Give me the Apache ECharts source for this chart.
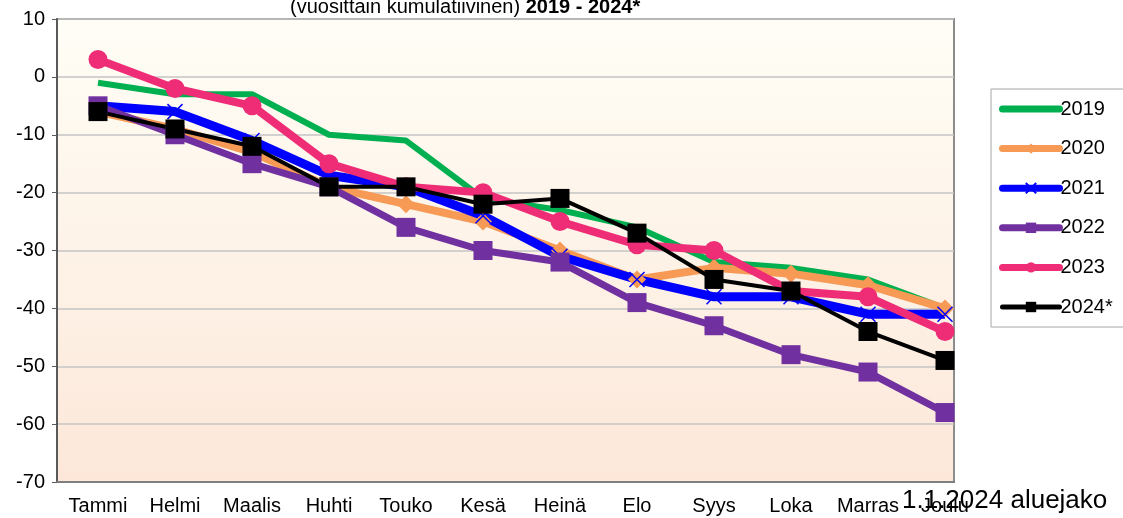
<!DOCTYPE html>
<html>
	<head>
		<meta charset="UTF-8">
		<title></title>
		<script src="https://cdn.jsdelivr.net/npm/echarts@6/dist/echarts.min.js" type="text/javascript" charset="utf-8"></script>
	</head>
	<body style="margin:0;background:#fff;">
		<div id="chart" style="width:1123px;height:518px;"></div>
		<script type="text/javascript">
			var months = ['Tammi', 'Helmi', 'Maalis', 'Huhti', 'Touko', 'Kesä', 'Heinä', 'Elo', 'Syys', 'Loka', 'Marras', 'Joulu'];
			var years = ['2019', '2020', '2021', '2022', '2023', '2024*'];
			var v2019 = [-1, -3, -3, -10, -11, -21, -23, -26, -32, -33, -35, -40];
			var v2020 = [-6, -9, -13, -19, -22, -25, -30, -35, -33, -34, -36, -40];
			var v2021 = [-5, -6, -11, -17, -19, -24, -31, -35, -38, -38, -41, -41];
			var v2022 = [-5, -10, -15, -19, -26, -30, -32, -39, -43, -48, -51, -58];
			var v2023 = [3, -2, -5, -15, -19, -20, -25, -29, -30, -37, -38, -44];
			var v2024 = [-6, -9, -12, -19, -19, -22, -21, -27, -35, -37, -44, -49];
			var yTicks = [10, 0, -10, -20, -30, -40, -50, -60, -70];

			var chart = echarts.init(document.getElementById('chart'));
			var font = 'Liberation Sans, Arial, sans-serif';
			var crossPath = 'path://M0,0L10,10M10,0L0,10';

			function line(name, data, color, width, symbol, size, extra) {
				var s = {
					name: name,
					type: 'line',
					xAxisIndex: 1,
					yAxisIndex: 1,
					data: data,
					symbol: symbol,
					symbolSize: size,
					showSymbol: symbol !== 'none',
					lineStyle: { color: color, width: width },
					itemStyle: { color: color },
					emphasis: { disabled: true },
					animation: false
				};
				if (extra) {
					for (var k in extra) s[k] = extra[k];
				}
				return s;
			}

			// legend: thick rounded lines, small markers, no marker for 2019
			var legendData = years.map(function (y, i) {
				var item = { name: y, lineStyle: { width: i === 5 ? 5 : 7, cap: 'round' } };
				if (i === 0) item.itemStyle = { opacity: 0 };
				return item;
			});

			var option = {
				backgroundColor: '#fff',
				textStyle: { fontFamily: font },
				title: {
					text: '{n|(vuosittain kumulatiivinen) }{b|2019 - 2024*}',
					left: 290,
					top: -3,
					padding: 0,
					textStyle: {
						fontWeight: 'normal',
						rich: {
							n: { fontSize: 20, color: '#000', fontWeight: 'normal', fontFamily: font },
							b: { fontSize: 20, color: '#000', fontWeight: 'bold', fontFamily: font }
						}
					}
				},
				legend: {
					orient: 'vertical',
					left: 991,
					top: 89,
					padding: [10, 40, 10, 8],
					itemWidth: 57,
					itemHeight: 13,
					itemGap: 19.6,
					backgroundColor: '#fff',
					borderColor: '#A6A6A6',
					borderWidth: 1,
					textStyle: { fontSize: 20, color: '#000', fontFamily: font, padding: [0, 0, 0, -4] },
					data: legendData
				},
				grid: [
					{
						left: 57, right: 169, top: 19, bottom: 36,
						show: true,
						borderColor: '#8C8C8C',
						borderWidth: 2,
						backgroundColor: new echarts.graphic.LinearGradient(0, 0, 0, 1, [
							{ offset: 0, color: '#FFFEF6' },
							{ offset: 1, color: '#FCE7D9' }
						])
					},
					{ left: 98, right: 178, top: 19, bottom: 36 }
				],
				xAxis: [
					{
						gridIndex: 0, type: 'value', min: 0, max: 1,
						axisLine: { show: true, onZero: false, lineStyle: { color: '#7F7F7F', width: 2 } },
						axisTick: { show: false }, axisLabel: { show: false }, splitLine: { show: false }
					},
					{
						gridIndex: 1, type: 'category', data: months, boundaryGap: false,
						axisLine: { show: false }, axisTick: { show: false }, splitLine: { show: false },
						axisLabel: { fontSize: 20, color: '#000', margin: 14, interval: 0, fontFamily: font }
					}
				],
				yAxis: [
					{
						gridIndex: 0, type: 'value',
						min: yTicks[yTicks.length - 1], max: yTicks[0], interval: 10,
						axisLine: { show: true, lineStyle: { color: '#595959', width: 2 } },
						axisTick: { show: true, length: 5, lineStyle: { color: '#595959', width: 1 } },
						axisLabel: { fontSize: 20, color: '#000', margin: 12, fontFamily: font },
						splitLine: { show: true, lineStyle: { color: '#C4C4C4', width: 1.5 } }
					},
					{
						gridIndex: 1, type: 'value',
						min: yTicks[yTicks.length - 1], max: yTicks[0], interval: 10,
						show: false
					}
				],
				series: [
					line('2019', v2019, '#00B050', 6, 'none', 0),
					line('2020', v2020, '#F79A55', 8, 'diamond', 18),
					line('2021', v2021, '#0000FF', 9, crossPath, 15, {
						itemStyle: { color: '#0000FF', borderColor: '#0000FF', borderWidth: 1.5 }
					}),
					line('2022', v2022, '#7030A0', 7, 'rect', 19),
					line('2023', v2023, '#EE2D76', 8, 'circle', 19),
					line('2024*', v2024, '#000000', 4, 'rect', 19)
				],
				graphic: [
					{
						type: 'text',
						left: 902,
						top: 488,
						z: 100,
						style: { text: '1.1.2024 aluejako', font: '26px ' + font, fill: '#000' }
					}
				]
			};
			chart.setOption(option);
		</script>
	</body>
</html>
